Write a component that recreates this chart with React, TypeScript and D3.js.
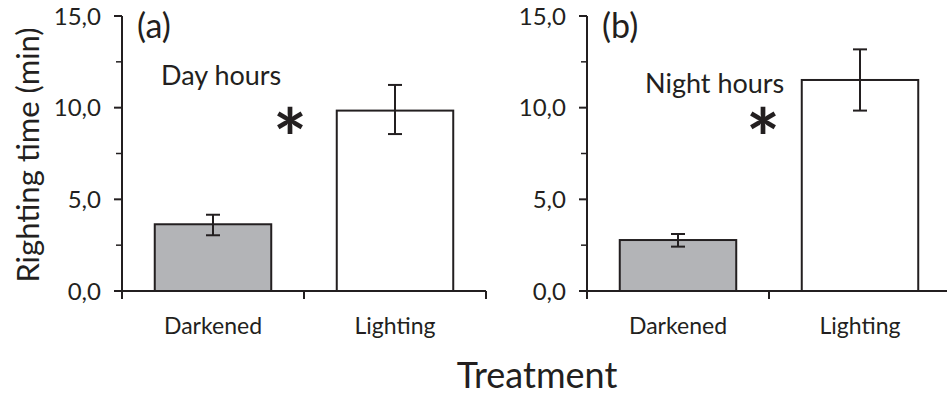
import React from "react";
import * as d3 from "d3";

const categories = ["Darkened", "Lighting"];
const dayMeans = [3.64, 9.84];
const dayErrLow = [3.04, 8.56];
const dayErrHigh = [4.16, 11.24];
const nightMeans = [2.78, 11.51];
const nightErrLow = [2.42, 9.84];
const nightErrHigh = [3.11, 13.18];
const majorTicks = [0, 5, 10, 15];
const minorTicks = [2.5, 7.5, 12.5];
const panelLabels = ["(a)", "(b)"];
const periodLabels = ["Day hours", "Night hours"];
const barColors = ["#b3b4b7", "#ffffff"];

const FONT = "Lato, 'Open Sans', sans-serif";
const W = 947;
const H = 397;

const y = d3.scaleLinear().domain([0, 15]).range([291, 16]);
const fmt = (v: number) => d3.format(".1f")(v).replace(".", ",");

type PanelProps = {
  x0: number;
  x1: number;
  means: number[];
  lo: number[];
  hi: number[];
  label: string;
  period: string;
  periodX: number;
  periodY: number;
  starX: number;
};

function Panel({ x0, x1, means, lo, hi, label, period, periodX, periodY, starX }: PanelProps) {
  const x = d3
    .scaleBand<string>()
    .domain(categories)
    .range([x0, x1])
    .paddingInner(0.36)
    .paddingOuter(0.18);
  const step = x.step();
  const stroke = "#231f20";
  return (
    <g>
      {categories.map((c, i) => {
        const bx = x(c)!;
        const cx = bx + x.bandwidth() / 2;
        return (
          <g key={c}>
            <rect
              x={bx}
              y={y(means[i])}
              width={x.bandwidth()}
              height={y(0) - y(means[i])}
              fill={barColors[i]}
              stroke={stroke}
              strokeWidth={2}
            />
            <line x1={cx} x2={cx} y1={y(hi[i])} y2={y(lo[i])} stroke={stroke} strokeWidth={2} />
            <line x1={cx - 7} x2={cx + 7} y1={y(hi[i])} y2={y(hi[i])} stroke={stroke} strokeWidth={2} />
            <line x1={cx - 7} x2={cx + 7} y1={y(lo[i])} y2={y(lo[i])} stroke={stroke} strokeWidth={2} />
            <text
              x={x0 + step * (i + 0.5)}
              y={334}
              textAnchor="middle"
              fontFamily={FONT}
              fontSize={23}
              fill="#231f20"
            >
              {c}
            </text>
          </g>
        );
      })}
      {/* y axis */}
      <line x1={x0} x2={x0} y1={y(15)} y2={y(0)} stroke={stroke} strokeWidth={2} />
      {majorTicks.map((t) => (
        <g key={t}>
          <line x1={x0 - 8} x2={x0} y1={y(t)} y2={y(t)} stroke={stroke} strokeWidth={2} />
          <text
            x={x0 - 21}
            y={y(t)}
            dy="0.36em"
            textAnchor="end"
            fontFamily={FONT}
            fontSize={24}
            fill="#231f20"
          >
            {fmt(t)}
          </text>
        </g>
      ))}
      {minorTicks.map((t) => (
        <line key={t} x1={x0 - 6} x2={x0} y1={y(t)} y2={y(t)} stroke={stroke} strokeWidth={1.5} />
      ))}
      {/* x axis */}
      <line x1={x0 - 1} x2={x1} y1={y(0)} y2={y(0)} stroke={stroke} strokeWidth={2} />
      {[0, 1, 2].map((k) => (
        <line
          key={k}
          x1={x0 + k * step}
          x2={x0 + k * step}
          y1={y(0)}
          y2={y(0) + 8}
          stroke={stroke}
          strokeWidth={2}
        />
      ))}
      <text x={x0 + 15} y={38} fontFamily={FONT} fontSize={34} fill="#231f20">
        {label}
      </text>
      <text x={periodX} y={periodY} fontFamily={FONT} fontSize={27} fill="#231f20">
        {period}
      </text>
      <text
        x={starX}
        y={168}
        textAnchor="middle"
        fontFamily={FONT}
        fontWeight="bold"
        fontSize={80}
        fill="#231f20"
      >
        *
      </text>
    </g>
  );
}

export default function App() {
  return (
    <svg width={W} height={H} style={{ position: "absolute", left: 0, top: 0, background: "#fff" }}>
      <Panel
        x0={122}
        x1={486}
        means={dayMeans}
        lo={dayErrLow}
        hi={dayErrHigh}
        label={panelLabels[0]}
        period={periodLabels[0]}
        periodX={161}
        periodY={85}
        starX={290}
      />
      <Panel
        x0={587}
        x1={951}
        means={nightMeans}
        lo={nightErrLow}
        hi={nightErrHigh}
        label={panelLabels[1]}
        period={periodLabels[1]}
        periodX={645}
        periodY={93}
        starX={763}
      />
      <text
        transform={`translate(39, 155) rotate(-90)`}
        textAnchor="middle"
        fontFamily={FONT}
        fontSize={31}
        fill="#231f20"
      >
        Righting time (min)
      </text>
      <text x={537} y={388} textAnchor="middle" fontFamily={FONT} fontSize={36} fill="#231f20">
        Treatment
      </text>
    </svg>
  );
}
